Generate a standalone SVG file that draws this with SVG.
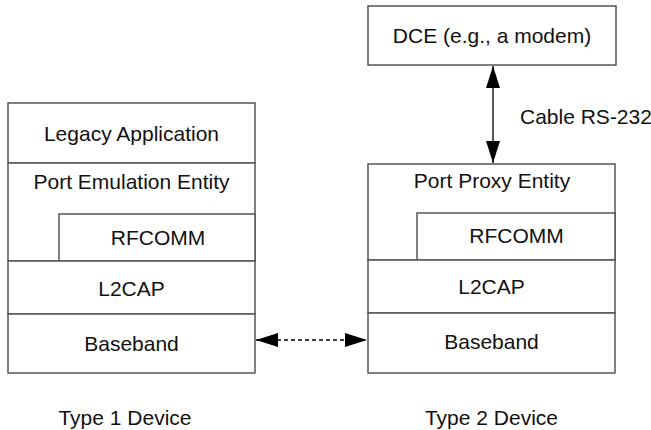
<svg xmlns="http://www.w3.org/2000/svg" width="651" height="430" viewBox="0 0 651 430">
<style>
.box{fill:#fff;stroke:#555;stroke-width:1.5}
.t{font-family:"Liberation Sans",Arial,sans-serif;font-size:21px;fill:#111;text-anchor:middle}
.ln{stroke:#000;stroke-width:1.3;fill:none}
</style>
<defs>
<marker id="ah" viewBox="0 0 22 14" refX="22" refY="7" markerWidth="22" markerHeight="14" markerUnits="userSpaceOnUse" orient="auto-start-reverse">
<path d="M0,0 L22,7 L0,14 Z" fill="#000"/>
</marker>
</defs>
<rect width="651" height="430" fill="#fff"/>
<g id="dce"><rect class="box" x="368" y="6" width="248" height="59"/><text class="t" x="492" y="43">DCE (e.g., a modem)</text></g>
<g id="legacy-app"><rect class="box" x="8" y="103" width="247" height="60"/><text class="t" x="131.5" y="141">Legacy Application</text></g>
<g id="port-emulation"><rect class="box" x="8" y="163" width="247" height="98"/><text class="t" x="131.5" y="189">Port Emulation Entity</text></g>
<g id="rfcomm-1"><rect class="box" x="59" y="214" width="196" height="47"/><text class="t" x="158" y="245">RFCOMM</text></g>
<g id="l2cap-1"><rect class="box" x="8" y="261" width="247" height="53"/><text class="t" x="131.5" y="296">L2CAP</text></g>
<g id="baseband-1"><rect class="box" x="8" y="314" width="247" height="59"/><text class="t" x="131.5" y="351">Baseband</text></g>
<g id="port-proxy"><rect class="box" x="368" y="164" width="247" height="96"/><text class="t" x="492" y="188">Port Proxy Entity</text></g>
<g id="rfcomm-2"><rect class="box" x="417" y="213" width="198" height="47"/><text class="t" x="516.5" y="243">RFCOMM</text></g>
<g id="l2cap-2"><rect class="box" x="368" y="260" width="247" height="53"/><text class="t" x="491.5" y="294">L2CAP</text></g>
<g id="baseband-2"><rect class="box" x="368" y="313" width="247" height="60"/><text class="t" x="491.5" y="349">Baseband</text></g>
<g id="labels">
<text class="t" x="125" y="425">Type 1 Device</text>
<text class="t" x="491.5" y="425">Type 2 Device</text>
<text class="t" x="520" y="124" style="text-anchor:start">Cable RS-232</text>
</g>
<g id="connectors">
<line class="ln" x1="493" y1="66" x2="493" y2="163" marker-start="url(#ah)" marker-end="url(#ah)"/>
<line class="ln" x1="256" y1="340" x2="367" y2="340" stroke-dasharray="4,3" marker-start="url(#ah)" marker-end="url(#ah)"/>
</g>
</svg>
